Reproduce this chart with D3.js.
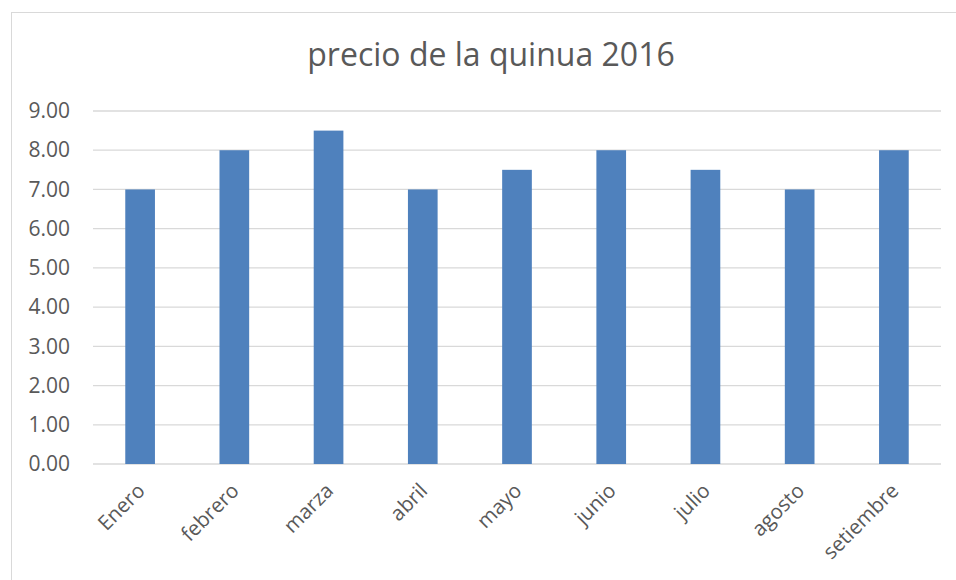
<!DOCTYPE html>
<html>
<head>
<meta charset="utf-8">
<script src="https://cdn.jsdelivr.net/npm/d3@7"></script>
<style>
  body { margin: 0; background: #fff; }
  text { font-family: "Open Sans", "Noto Sans", sans-serif; fill: #595959; }
</style>
</head>
<body>
<div id="chart"></div>
<script>
// Chart data
var months = ["Enero", "febrero", "marza", "abril", "mayo", "junio", "julio", "agosto", "setiembre"];
var prices = [7, 8, 8.5, 7, 7.5, 8, 7.5, 7, 8];
var yTicks = [0, 1, 2, 3, 4, 5, 6, 7, 8, 9];

var svgWidth = 956;
var svgHeight = 580;

var margin = { top: 111, right: 15, bottom: 116, left: 93 };
var chartWidth = 941 - margin.left;
var chartHeight = 464 - margin.top;

var svg = d3.select("#chart")
  .append("svg")
  .attr("width", svgWidth)
  .attr("height", svgHeight);

// Outer chart border
svg.append("rect")
  .attr("x", 11.5)
  .attr("y", 12.5)
  .attr("width", 960)
  .attr("height", 600)
  .attr("fill", "none")
  .attr("stroke", "#d9d9d9")
  .attr("stroke-width", 1);

// Title
svg.append("text")
  .attr("x", 491)
  .attr("y", 66)
  .attr("text-anchor", "middle")
  .attr("font-size", 32)
  .text("precio de la quinua 2016");

var chartGroup = svg.append("g")
  .attr("transform", `translate(${margin.left}, ${margin.top})`);

var xScale = d3.scaleBand()
  .domain(months)
  .range([0, chartWidth])
  .paddingInner(0.685)
  .paddingOuter(0.3425);

var yScale = d3.scaleLinear()
  .domain([0, 9])
  .range([chartHeight, 0]);

// Gridlines
chartGroup.selectAll(".grid")
  .data(yTicks)
  .enter()
  .append("line")
  .attr("x1", 0)
  .attr("x2", chartWidth)
  .attr("y1", d => yScale(d))
  .attr("y2", d => yScale(d))
  .attr("stroke", "#d9d9d9")
  .attr("stroke-width", 1.3);

// Y axis labels
var leftAxis = d3.axisLeft(yScale)
  .tickValues(yTicks)
  .tickFormat(d3.format(".2f"))
  .tickSize(0)
  .tickPadding(23);

chartGroup.append("g")
  .call(leftAxis)
  .call(g => g.select(".domain").remove())
  .selectAll("text")
  .attr("font-size", 21)
  .attr("font-family", "Open Sans, sans-serif")
  .attr("fill", "#595959");

// Bars
chartGroup.selectAll("rect.bar")
  .data(prices)
  .enter()
  .append("rect")
  .classed("bar", true)
  .attr("x", (d, i) => xScale(months[i]))
  .attr("y", d => yScale(d))
  .attr("width", xScale.bandwidth())
  .attr("height", d => chartHeight - yScale(d))
  .attr("fill", "#4f81bd");

// X axis labels
var bottomAxis = d3.axisBottom(xScale)
  .tickSize(0)
  .tickPadding(0);

chartGroup.append("g")
  .attr("transform", `translate(0, ${chartHeight})`)
  .call(bottomAxis)
  .call(g => g.select(".domain").remove())
  .selectAll("text")
  .attr("font-size", 20.5)
  .attr("font-family", "Open Sans, sans-serif")
  .attr("fill", "#595959")
  .attr("text-anchor", "end")
  .attr("dy", 0)
  .attr("transform", "translate(6, 28) rotate(-45)");
</script>
</body>
</html>
